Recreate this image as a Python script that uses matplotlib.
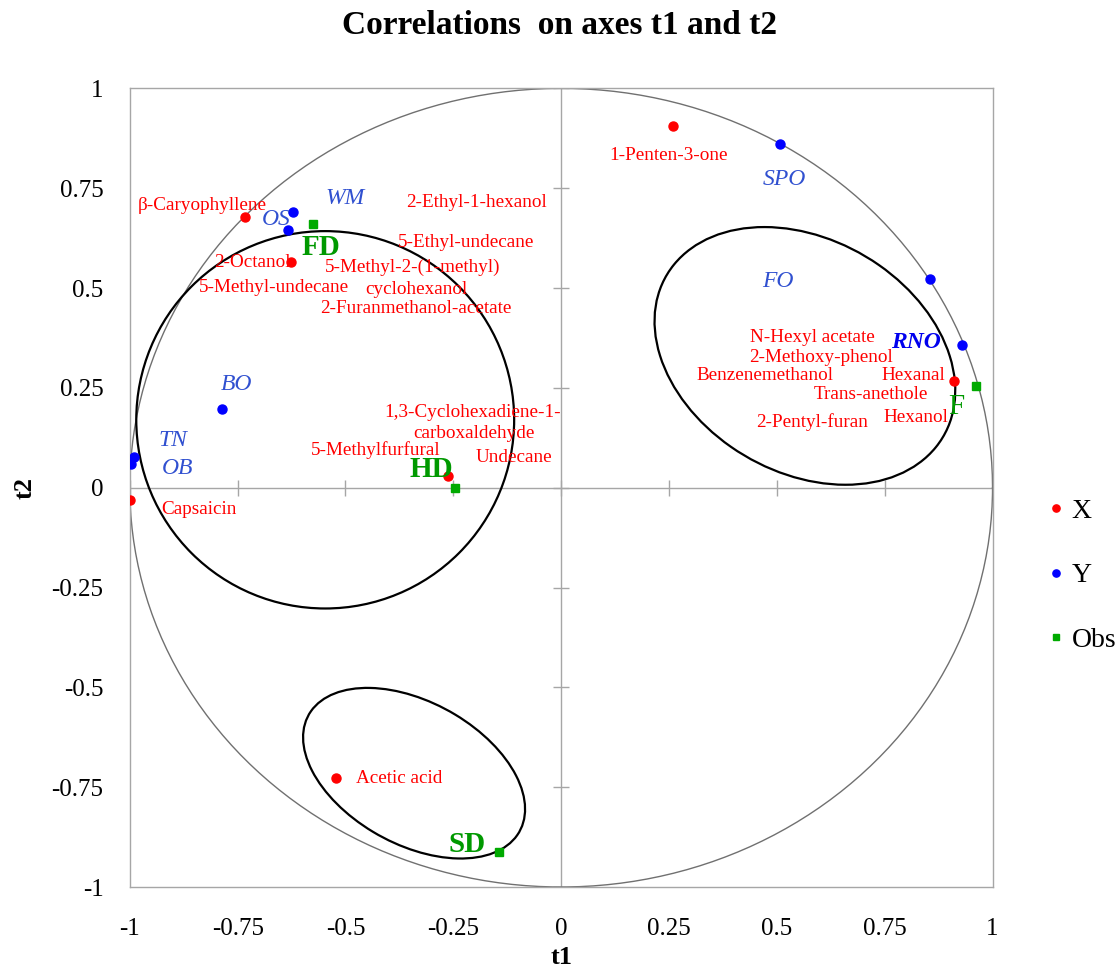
import numpy as np
import matplotlib
matplotlib.use('Agg')
import matplotlib.pyplot as plt
from matplotlib.patches import Ellipse

plt.rcParams['font.family'] = ['Liberation Serif', 'DejaVu Serif']

# variaveis X (compostos)
x_t1 = [0.26, -0.732, -0.626, -0.262, -0.999, -0.521, 0.911]
x_t2 = [0.905, 0.678, 0.565, 0.03, -0.03, -0.728, 0.268]

# variaveis Y (descritores)
y_t1 = [0.507, 0.855, 0.929, -0.621, -0.633, -0.786, -0.99, -0.997]
y_t2 = [0.86, 0.522, 0.357, 0.69, 0.645, 0.198, 0.078, 0.06]

# observacoes
obs_t1 = [-0.575, -0.246, -0.144, 0.962]
obs_t2 = [0.66, 0.0, -0.913, 0.255]

# rotulos
x_labels = ['1-Penten-3-one', 'β-Caryophyllene', '2-Ethyl-1-hexanol', '5-Ethyl-undecane',
            '2-Octanol', '5-Methyl-2-(1-methyl)', '5-Methyl-undecane', 'cyclohexanol',
            '2-Furanmethanol-acetate', '1,3-Cyclohexadiene-1-', 'carboxaldehyde',
            '5-Methylfurfural', 'Undecane', 'Capsaicin', 'Acetic acid', 'N-Hexyl acetate',
            '2-Methoxy-phenol', 'Benzenemethanol', 'Hexanal', 'Trans-anethole',
            '2-Pentyl-furan', 'Hexanol']
x_lab_pos = [(0.25, 0.8325), (-0.832, 0.7075), (-0.197, 0.715), (-0.22, 0.615),
             (-0.716, 0.565), (-0.345, 0.5525), (-0.667, 0.5025), (-0.336, 0.4975),
             (-0.338, 0.4475), (-0.206, 0.1875), (-0.202, 0.135),
             (-0.431, 0.095), (-0.109, 0.075), (-0.839, -0.055), (-0.375, -0.7275),
             (0.582, 0.375), (0.603, 0.325), (0.473, 0.28), (0.816, 0.28),
             (0.718, 0.2325), (0.582, 0.165), (0.823, 0.175)]

y_labels = ['SPO', 'FO', 'RNO', 'WM', 'OS', 'BO', 'TN', 'OB']
y_lab_pos = [(0.517, 0.7725), (0.503, 0.5175), (0.823, 0.3625), (-0.5, 0.725),
             (-0.66, 0.6725), (-0.753, 0.2575), (-0.899, 0.1175), (-0.89, 0.0475)]

obs_labels = ['FD', 'HD', 'SD', 'F']
obs_lab_pos = [(-0.556, 0.6025), (-0.301, 0.045), (-0.218, -0.8925), (0.915, 0.2025)]

ticks = [-1, -0.75, -0.5, -0.25, 0, 0.25, 0.5, 0.75, 1]
tick_txt = ['-1', '-0.75', '-0.5', '-0.25', '0', '0.25', '0.5', '0.75', '1']

fig = plt.figure(figsize=(11.19, 9.71), dpi=100)
ax = fig.add_axes([0.116, 0.0865, 0.771, 0.8225])
ax.set_xlim(-1, 1)
ax.set_ylim(-1, 1)

for s in ax.spines.values():
    s.set_color('#a6a6a6')
    s.set_linewidth(1)

ax.set_xticks(ticks)
ax.set_xticklabels(tick_txt)
ax.set_yticks(ticks)
ax.set_yticklabels(tick_txt)
ax.tick_params(length=0, labelsize=18)
ax.tick_params(axis='x', pad=22)
ax.tick_params(axis='y', pad=19)

# eixos no zero com marcas em cruz
ax.axhline(0, color='#a6a6a6', lw=1, zorder=1)
ax.axvline(0, color='#a6a6a6', lw=1, zorder=1)
ax.plot(ticks, [0] * len(ticks), ls='none', marker='|', ms=12, mew=1, color='#a6a6a6', zorder=1)
ax.plot([0] * len(ticks), ticks, ls='none', marker='_', ms=12, mew=1, color='#a6a6a6', zorder=1)

# circulo de correlacao
th = np.linspace(0, 2 * np.pi, 400)
ax.plot(np.cos(th), np.sin(th), color='#707070', lw=1, zorder=2)

# elipses dos grupos
ax.add_patch(Ellipse((-0.547, 0.17), 0.876, 0.945, angle=0, fill=False, ec='black', lw=1.6, zorder=2))
ax.add_patch(Ellipse((0.565, 0.33), 0.76, 0.57, angle=-37, fill=False, ec='black', lw=1.6, zorder=2))
ax.add_patch(Ellipse((-0.341, -0.715), 0.57, 0.35, angle=-33, fill=False, ec='black', lw=1.6, zorder=2))

ax.plot(x_t1, x_t2, 'o', color='#ff0000', ms=6.5, ls='none', label='X', zorder=4)
ax.plot(y_t1, y_t2, 'o', color='#0000ff', ms=6.5, ls='none', label='Y', zorder=4)
ax.plot(obs_t1, obs_t2, 's', color='#00aa00', ms=6, ls='none', label='Obs', zorder=4)

for t, (px, py) in zip(x_labels, x_lab_pos):
    ax.text(px, py, t, color='#ff0000', fontsize=13.8, ha='center', va='center', zorder=5)

for t, (px, py) in zip(y_labels, y_lab_pos):
    peso = 'bold' if t == 'RNO' else 'normal'
    cor = '#0000ee' if t == 'RNO' else '#3050d0'
    ax.text(px, py, t, color=cor, fontsize=17, style='italic', weight=peso,
            ha='center', va='center', zorder=5)

for t, (px, py) in zip(obs_labels, obs_lab_pos):
    peso = 'normal' if t == 'F' else 'bold'
    ax.text(px, py, t, color='#009900', fontsize=21, weight=peso,
            ha='center', va='center', zorder=5)

fig.text(0.5, 1 - 26 / 971, 'Correlations  on axes t1 and t2', fontsize=24, weight='bold',
         ha='center', va='center')
ax.set_xlabel('t1', fontsize=19, weight='bold')
ax.set_ylabel('t2', fontsize=19, weight='bold')
ax.xaxis.set_label_coords(0.5, -0.074)
ax.yaxis.set_label_coords(-0.108, 0.5)

ax.legend(loc='center left', bbox_to_anchor=(1.066, 0.39), frameon=False, fontsize=20,
          labelspacing=1.4, handlelength=0.5, handletextpad=0.3, markerscale=0.8,
          borderpad=0, borderaxespad=0)

fig.savefig('out.png', dpi=100)
